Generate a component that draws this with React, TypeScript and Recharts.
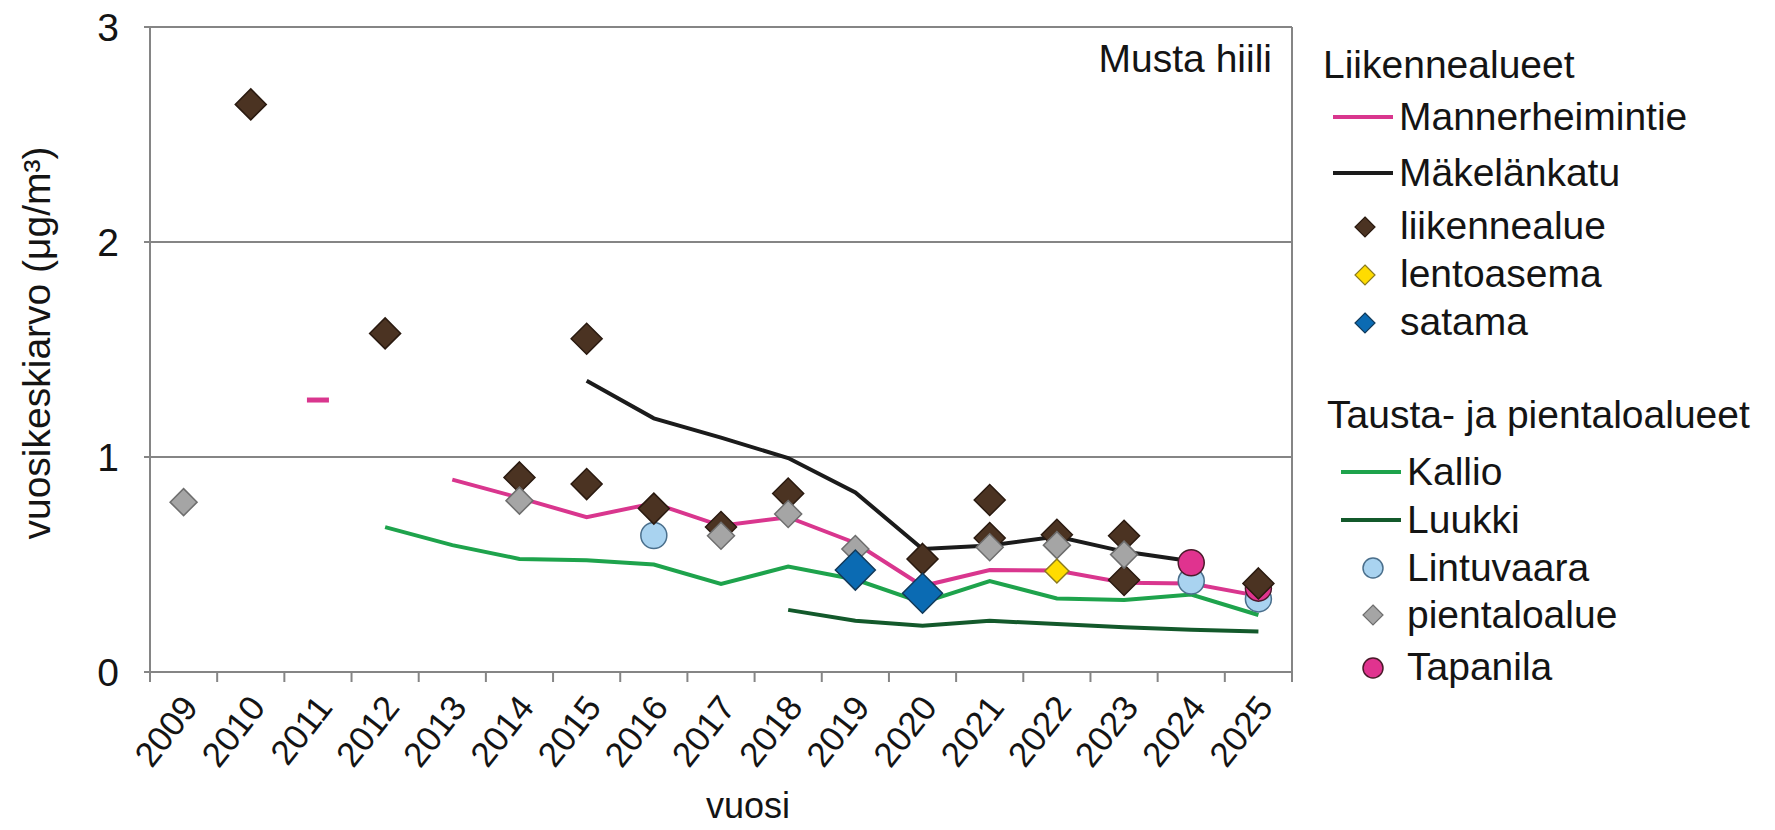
import React from 'react'
import { CartesianGrid, ComposedChart, Legend, Line, XAxis, YAxis } from 'recharts'

// annual means of black carbon (µg/m³), one slot per year, null = no measurement
const years = ['2009', '2010', '2011', '2012', '2013', '2014', '2015', '2016', '2017', '2018', '2019', '2020', '2021', '2022', '2023', '2024', '2025']
const mannerheimintie = [null, null, 1.265, null, 0.895, 0.81, 0.72, 0.785, 0.68, 0.72, 0.6, 0.4, 0.474, 0.472, 0.415, 0.412, 0.354]
const makelankatu = [null, null, null, null, null, null, 1.355, 1.18, 1.09, 0.995, 0.835, 0.572, 0.588, 0.63, 0.56, 0.515, null]
const kallio = [null, null, null, 0.674, 0.59, 0.526, 0.52, 0.5, 0.41, 0.49, 0.43, 0.323, 0.423, 0.342, 0.335, 0.36, 0.265]
const luukki = [null, null, null, null, null, null, null, null, null, 0.289, 0.238, 0.215, 0.238, 0.223, 0.208, 0.197, 0.188]
const liikennealue = [null, 2.64, null, 1.575, null, 0.905, 1.55, 0.76, 0.674, 0.83, null, 0.526, 0.8, 0.638, 0.634, null, 0.412]
const liikennealue2 = [null, null, null, null, null, null, 0.874, null, null, null, null, null, 0.623, null, 0.428, null, null]
const lentoasema = [null, null, null, null, null, null, null, null, null, null, null, null, null, 0.47, null, null, null]
const satama = [null, null, null, null, null, null, null, null, null, null, 0.474, 0.366, null, null, null, null, null]
const lintuvaara = [null, null, null, null, null, null, null, 0.635, null, null, null, null, null, null, null, 0.423, 0.34]
const pientaloalue = [0.79, null, null, null, null, 0.797, null, null, 0.634, 0.735, 0.572, null, 0.58, 0.59, 0.546, null, null]
const tapanila = [null, null, null, null, null, null, null, null, null, null, null, null, null, null, null, 0.508, 0.39]
const yTicks = [0, 1, 2, 3]

const data = years.map((year, i) => ({
  year,
  mannerheimintie: mannerheimintie[i],
  makelankatu: makelankatu[i],
  kallio: kallio[i],
  luukki: luukki[i],
  liikennealue: liikennealue[i],
  liikennealue2: liikennealue2[i],
  lentoasema: lentoasema[i],
  satama: satama[i],
  lintuvaara: lintuvaara[i],
  pientaloalue: pientaloalue[i],
  tapanila: tapanila[i],
}))

const FONT = "'Liberation Sans', Arial, sans-serif"
const TEXT = '#141414'
const FRAME = '#858585'
const W = 1775
const H = 830
const PLOT_LEFT = 150
const PLOT_RIGHT = 1292
const PLOT_TOP = 27
const PLOT_BOTTOM = 672
const CAT_W = (PLOT_RIGHT - PLOT_LEFT) / years.length

const PINK = '#d9368e'
const BLACK = '#1b1b1b'
const GREEN = '#1ea34c'
const DARK_GREEN = '#13592b'
const BROWN = '#4b3322'

function diamondPath(cx: number, cy: number, h: number) {
  return `M${cx},${cy - h}L${cx + h},${cy}L${cx},${cy + h}L${cx - h},${cy}Z`
}

function diamondDot(fill: string, stroke: string, half: number) {
  return (props: any) => {
    const { cx, cy, value, index, dataKey } = props
    if (value == null || cx == null || cy == null) return <g key={`${dataKey}-${index}`} />
    return <path key={`${dataKey}-${index}`} d={diamondPath(cx, cy, half)} fill={fill} stroke={stroke} strokeWidth={1.5} />
  }
}

function circleDot(fill: string, stroke: string, r: number) {
  return (props: any) => {
    const { cx, cy, value, index, dataKey } = props
    if (value == null || cx == null || cy == null) return <g key={`${dataKey}-${index}`} />
    return <circle key={`${dataKey}-${index}`} cx={cx} cy={cy} r={r} fill={fill} stroke={stroke} strokeWidth={1.5} />
  }
}

// a lone point of a line series shows up as a short dash, like Excel's dash marker
function loneDash(values: (number | null)[], color: string) {
  return (props: any) => {
    const { cx, cy, value, index, dataKey } = props
    const lone = value != null && values[index - 1] == null && values[index + 1] == null
    if (!lone || cx == null || cy == null) return <g key={`${dataKey}-${index}`} />
    return <rect key={`${dataKey}-${index}`} x={cx - 11} y={cy - 2.5} width={22} height={5} fill={color} />
  }
}

function YearTick(props: any) {
  const { x, payload, index } = props
  const left = x - CAT_W / 2
  const ax = x + 16
  const ay = PLOT_BOTTOM + 36
  return (
    <g>
      <line x1={left} y1={PLOT_BOTTOM} x2={left} y2={PLOT_BOTTOM + 10} stroke={FRAME} strokeWidth={2} />
      {index === years.length - 1 && (
        <line x1={left + CAT_W} y1={PLOT_BOTTOM} x2={left + CAT_W} y2={PLOT_BOTTOM + 10} stroke={FRAME} strokeWidth={2} />
      )}
      <text x={ax} y={ay} transform={`rotate(-52 ${ax} ${ay})`} textAnchor="end" fontSize={35} fontFamily={FONT} fill={TEXT}>
        {payload.value}
      </text>
    </g>
  )
}

function LegendLine({ x, y, color, label }: { x: number; y: number; color: string; label: string }) {
  return (
    <g>
      <line x1={x} y1={y} x2={x + 60} y2={y} stroke={color} strokeWidth={4} />
      <text x={x + 66} y={y + 13} fontSize={39}>{label}</text>
    </g>
  )
}

function Overlay() {
  return (
    <svg width={W} height={H} fontFamily={FONT} fill={TEXT} style={{ display: 'block' }}>
      <text x={1272} y={72} textAnchor="end" fontSize={39}>Musta hiili</text>
      <text transform="translate(50,343) rotate(-90)" textAnchor="middle" fontSize={39}>vuosikeskiarvo (μg/m³)</text>
      <text x={748} y={818} textAnchor="middle" fontSize={36}>vuosi</text>

      <text x={1323} y={78} fontSize={39}>Liikennealueet</text>
      <LegendLine x={1333} y={117} color={PINK} label="Mannerheimintie" />
      <LegendLine x={1333} y={173} color={BLACK} label="Mäkelänkatu" />
      <path d={diamondPath(1365, 227, 10)} fill={BROWN} stroke="#2a1a10" strokeWidth={1.2} />
      <text x={1400} y={239} fontSize={39}>liikennealue</text>
      <path d={diamondPath(1365, 275, 10)} fill="#ffdc00" stroke="#8a7a20" strokeWidth={1.2} />
      <text x={1400} y={287} fontSize={39}>lentoasema</text>
      <path d={diamondPath(1365, 323, 10)} fill="#0b6bb3" stroke="#123a5a" strokeWidth={1.2} />
      <text x={1400} y={335} fontSize={39}>satama</text>

      <text x={1327} y={428} fontSize={39}>Tausta- ja pientaloalueet</text>
      <LegendLine x={1341} y={472} color={GREEN} label="Kallio" />
      <LegendLine x={1341} y={520} color={DARK_GREEN} label="Luukki" />
      <circle cx={1373} cy={568} r={10} fill="#a9d3f0" stroke="#4a6f8c" strokeWidth={1.5} />
      <text x={1407} y={581} fontSize={39}>Lintuvaara</text>
      <path d={diamondPath(1373, 615, 10)} fill="#a5a5a5" stroke="#6e6e6e" strokeWidth={1.2} />
      <text x={1407} y={628} fontSize={39}>pientaloalue</text>
      <circle cx={1373} cy={668} r={10} fill="#e0338f" stroke="#4a1a2a" strokeWidth={1.5} />
      <text x={1407} y={680} fontSize={39}>Tapanila</text>
    </svg>
  )
}

export default function App() {
  return (
    <div style={{ position: 'absolute', left: 0, top: 0, width: W, height: H, background: '#fff' }}>
      <ComposedChart width={W} height={H} data={data} margin={{ top: PLOT_TOP, right: W - PLOT_RIGHT, bottom: 0, left: 0 }}>
        <CartesianGrid vertical verticalPoints={[PLOT_RIGHT]} stroke={FRAME} strokeWidth={2} />
        <XAxis
          dataKey="year"
          scale="band"
          height={H - PLOT_BOTTOM}
          interval={0}
          tickLine={false}
          axisLine={{ stroke: FRAME, strokeWidth: 2 }}
          tick={<YearTick />}
        />
        <YAxis
          domain={[0, 3]}
          ticks={yTicks}
          width={PLOT_LEFT}
          tickSize={6}
          tickMargin={25}
          axisLine={{ stroke: FRAME, strokeWidth: 2 }}
          tickLine={{ stroke: FRAME, strokeWidth: 2 }}
          tick={{ fontSize: 39, fontFamily: FONT, fill: TEXT }}
        />
        <Legend
          layout="horizontal"
          verticalAlign="middle"
          align="center"
          content={() => <Overlay />}
          wrapperStyle={{ left: 0, top: 0, width: W, height: H, pointerEvents: 'none' }}
        />
        <Line dataKey="luukki" stroke={DARK_GREEN} strokeWidth={4} dot={false} activeDot={false} isAnimationActive={false} />
        <Line dataKey="kallio" stroke={GREEN} strokeWidth={4} dot={false} activeDot={false} isAnimationActive={false} />
        <Line dataKey="mannerheimintie" stroke={PINK} strokeWidth={4} dot={loneDash(mannerheimintie, PINK)} activeDot={false} isAnimationActive={false} />
        <Line dataKey="makelankatu" stroke={BLACK} strokeWidth={4} dot={false} activeDot={false} isAnimationActive={false} />
        <Line dataKey="lintuvaara" stroke="none" dot={circleDot('#a9d3f0', '#4a6f8c', 13)} activeDot={false} isAnimationActive={false} />
        <Line dataKey="tapanila" stroke="none" dot={circleDot('#e0338f', '#4a1a2a', 13)} activeDot={false} isAnimationActive={false} />
        <Line dataKey="liikennealue" stroke="none" dot={diamondDot(BROWN, '#2a1a10', 15.5)} activeDot={false} isAnimationActive={false} />
        <Line dataKey="liikennealue2" stroke="none" dot={diamondDot(BROWN, '#2a1a10', 15.5)} activeDot={false} isAnimationActive={false} />
        <Line dataKey="pientaloalue" stroke="none" dot={diamondDot('#a5a5a5', '#6e6e6e', 13.5)} activeDot={false} isAnimationActive={false} />
        <Line dataKey="lentoasema" stroke="none" dot={diamondDot('#ffdc00', '#8a7a20', 12)} activeDot={false} isAnimationActive={false} />
        <Line dataKey="satama" stroke="none" dot={diamondDot('#0b6bb3', '#123a5a', 20)} activeDot={false} isAnimationActive={false} />
      </ComposedChart>
    </div>
  )
}
